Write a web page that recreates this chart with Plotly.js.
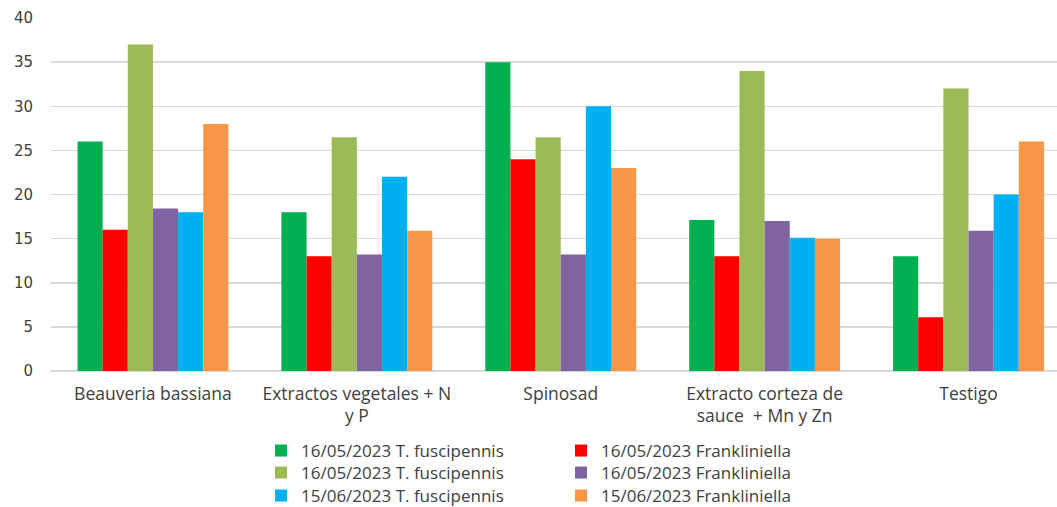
<!DOCTYPE html>
<html>
<head>
<meta charset="utf-8">
<script src="https://cdn.plot.ly/plotly-3.0.1.min.js"></script>
<style>
  html, body { margin: 0; padding: 0; background: #ffffff; }
  #chart { width: 1057px; height: 507px; }
</style>
</head>
<body>
<div id="chart"></div>
<script>
// Treatments on the category axis
const categories = [
  "Beauveria bassiana",
  "Extractos vegetales + N<br>y P",
  "Spinosad",
  "Extracto corteza de<br>sauce  + Mn y Zn",
  "Testigo"
];

// Series names and values per treatment
const seriesNames = [
  "16/05/2023 T. fuscipennis",
  "16/05/2023 Frankliniella",
  "16/05/2023 T. fuscipennis",
  "16/05/2023 Frankliniella",
  "15/06/2023 T. fuscipennis",
  "15/06/2023 Frankliniella"
];
const s1 = [26, 18, 35, 17.1, 13];
const s2 = [16, 13, 24, 13, 6.1];
const s3 = [37, 26.5, 26.5, 34, 32];
const s4 = [18.4, 13.2, 13.2, 17, 15.9];
const s5 = [18, 22, 30, 15.1, 20];
const s6 = [28, 15.9, 23, 15, 26];

const seriesValues = [s1, s2, s3, s4, s5, s6];
const seriesColors = ["#00B050", "#FF0000", "#9BBB59", "#8064A2", "#00B0F0", "#F79646"];
const yTicks = [0, 5, 10, 15, 20, 25, 30, 35, 40];

// Plot area in pixels
const M = { l: 51, r: 0, t: 18, b: 136 };
const W = 1057, H = 507;
const plotW = W - M.l - M.r, plotH = H - M.t - M.b;

// Each series gets its own legend box so the 2x3 grid can be placed freely
const legendIds = ["legend", "legend2", "legend3", "legend4", "legend5", "legend6"];
const legendColX = [261, 561];        // left edge of each legend column (px)
const legendRowY = [451, 473, 496];   // vertical centre of each legend row (px)

const traces = seriesValues.map((vals, i) => ({
  type: "bar",
  x: categories,
  y: vals,
  name: seriesNames[i],
  legend: legendIds[i],
  marker: { color: seriesColors[i], line: { width: 0 } },
  hoverinfo: "y+name"
}));

const legendFont = { family: "Open Sans, sans-serif", size: 17, color: "#404040" };

const layout = {
  width: W,
  height: H,
  margin: { l: M.l, r: M.r, t: M.t, b: M.b, autoexpand: false },
  paper_bgcolor: "#ffffff",
  plot_bgcolor: "#ffffff",
  barmode: "group",
  bargap: 0.26,
  bargroupgap: 0,
  showlegend: true,
  xaxis: {
    type: "category",
    range: [-0.5, 4.434],
    showgrid: false,
    zeroline: false,
    showline: false,
    ticks: "",
    tickfont: { family: "Open Sans, sans-serif", size: 17.5, color: "#404040" },
    ticklabelstandoff: 10
  },
  yaxis: {
    range: [0, 40],
    tickvals: yTicks,
    showgrid: true,
    gridcolor: "#d9d9d9",
    gridwidth: 1.5,
    zeroline: true,
    zerolinecolor: "#d9d9d9",
    zerolinewidth: 1.5,
    showline: false,
    ticks: "",
    tickfont: { family: "DejaVu Sans, sans-serif", size: 15, color: "#404040" },
    ticklabelstandoff: 17
  }
};

legendIds.forEach((id, i) => {
  layout[id] = {
    x: (legendColX[i % 2] - M.l) / plotW,
    xanchor: "left",
    y: (H - M.b - legendRowY[Math.floor(i / 2)]) / plotH,
    yanchor: "middle",
    orientation: "v",
    font: legendFont,
    itemwidth: 30,
    bgcolor: "rgba(0,0,0,0)"
  };
});

Plotly.newPlot("chart", traces, layout, { displayModeBar: false, staticPlot: true });
</script>
</body>
</html>
